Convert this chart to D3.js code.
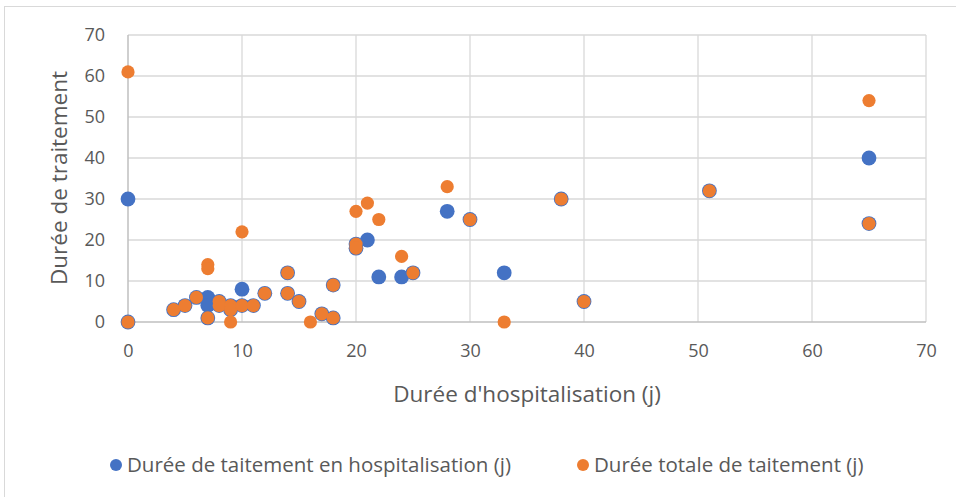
<!DOCTYPE html>
<html>
<head>
<meta charset="utf-8">
<script src="https://cdn.jsdelivr.net/npm/d3@7"></script>
<style>
  body { margin: 0; background: #fff; }
  text { font-family: "Open Sans", sans-serif; fill: #595959; }
</style>
</head>
<body>
<svg id="chart" width="956" height="497"></svg>
<script>
"use strict";

// durée d'hospitalisation (j) / durée de traitement en hospitalisation
var hospX = [0, 0, 4, 5, 6, 7, 7, 7, 8, 8, 9, 9, 10, 10, 11, 12, 14, 14, 15, 17, 18, 18,
  20, 20, 21, 22, 24, 25, 28, 30, 33, 38, 40, 51, 65, 65];
var hospY = [30, 0, 3, 4, 6, 6, 4, 1, 5, 4, 4, 3, 8, 4, 4, 7, 12, 7, 5, 2, 9, 1,
  19, 18, 20, 11, 11, 12, 27, 25, 12, 30, 5, 32, 40, 24];

// durée totale de traitement
var totalX = [0, 0, 4, 5, 6, 7, 7, 7, 8, 8, 9, 9, 9, 10, 10, 11, 12, 14, 14, 15, 16, 17, 18, 18,
  20, 20, 20, 21, 22, 24, 25, 28, 30, 33, 38, 40, 51, 65, 65];
var totalY = [61, 0, 3, 4, 6, 14, 13, 1, 5, 4, 4, 3, 0, 22, 4, 4, 7, 12, 7, 5, 0, 2, 9, 1,
  27, 19, 18, 29, 25, 16, 12, 33, 25, 0, 30, 5, 32, 54, 24];

var ticks = [0, 10, 20, 30, 40, 50, 60, 70];
var seriesNames = ["Durée de taitement en hospitalisation (j)", "Durée totale de taitement (j)"];
var colors = ["#4472C4", "#ED7D31"];

var svg = d3.select("#chart");

// cadre
svg.append("rect")
  .attr("x", 4.5).attr("y", 6.5)
  .attr("width", 960).attr("height", 500)
  .attr("fill", "none").attr("stroke", "#D9D9D9");

var x = d3.scaleLinear().domain([0, 70]).range([128, 926]);
var y = d3.scaleLinear().domain([0, 70]).range([322, 35]);

// grille
svg.append("g").selectAll("line.h")
  .data(ticks.slice(1))
  .enter().append("line")
  .attr("x1", x(0)).attr("x2", x(70))
  .attr("y1", function (d) { return y(d); })
  .attr("y2", function (d) { return y(d); })
  .attr("stroke", "#D9D9D9").attr("stroke-width", 1.3);

svg.append("g").selectAll("line.v")
  .data(ticks.slice(1))
  .enter().append("line")
  .attr("y1", y(0)).attr("y2", y(70))
  .attr("x1", function (d) { return x(d); })
  .attr("x2", function (d) { return x(d); })
  .attr("stroke", "#D9D9D9").attr("stroke-width", 1.3);

// axes
svg.append("line")
  .attr("x1", x(0)).attr("x2", x(70))
  .attr("y1", y(0)).attr("y2", y(0))
  .attr("stroke", "#BFBFBF").attr("stroke-width", 1.5);
svg.append("line")
  .attr("x1", x(0)).attr("x2", x(0))
  .attr("y1", y(0)).attr("y2", y(70))
  .attr("stroke", "#BFBFBF").attr("stroke-width", 1.5);

var xAxis = svg.append("g")
  .attr("transform", "translate(0," + (y(0) + 22) + ")")
  .call(d3.axisBottom(x).tickValues(ticks).tickSize(0).tickPadding(0));
xAxis.select(".domain").remove();
xAxis.selectAll("text")
  .attr("dy", "0.71em")
  .style("font-size", "18px").style("font-family", "Open Sans").attr("fill", "#595959");

var yAxis = svg.append("g")
  .attr("transform", "translate(" + (x(0) - 23) + ",0)")
  .call(d3.axisLeft(y).tickValues(ticks).tickSize(0).tickPadding(0));
yAxis.select(".domain").remove();
yAxis.selectAll("text")
  .style("font-size", "18px").style("font-family", "Open Sans").attr("fill", "#595959");

// titres des axes
svg.append("text")
  .attr("x", 527).attr("y", 402)
  .attr("text-anchor", "middle")
  .style("font-size", "22.5px")
  .text("Durée d'hospitalisation (j)");

svg.append("text")
  .attr("transform", "translate(67,178) rotate(-90)")
  .attr("text-anchor", "middle")
  .style("font-size", "22.5px")
  .text("Durée de traitement");

// points
var hospPts = hospX.map(function (d, i) { return [d, hospY[i]]; });
var totalPts = totalX.map(function (d, i) { return [d, totalY[i]]; });

svg.append("g").selectAll("circle")
  .data(hospPts)
  .enter().append("circle")
  .attr("cx", function (d) { return x(d[0]); })
  .attr("cy", function (d) { return y(d[1]); })
  .attr("r", 7.4)
  .attr("fill", colors[0]);

svg.append("g").selectAll("circle")
  .data(totalPts)
  .enter().append("circle")
  .attr("cx", function (d) { return x(d[0]); })
  .attr("cy", function (d) { return y(d[1]); })
  .attr("r", 6.6)
  .attr("fill", colors[1]);

// légende
var legendX = [116, 583];
var legend = svg.append("g").selectAll("g")
  .data(seriesNames)
  .enter().append("g")
  .attr("transform", function (d, i) { return "translate(" + legendX[i] + ",465)"; });
legend.append("circle")
  .attr("r", 6)
  .attr("fill", function (d, i) { return colors[i]; });
legend.append("text")
  .attr("x", 11).attr("dy", "0.35em")
  .style("font-size", "20.5px")
  .text(function (d) { return d; });
</script>
</body>
</html>
